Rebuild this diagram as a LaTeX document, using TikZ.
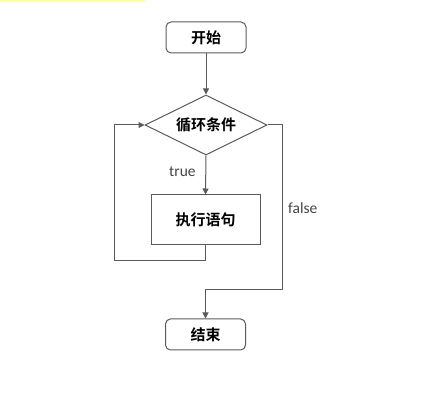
\documentclass[tikz,border=0pt]{standalone}
\usepackage{fontspec}
\setmainfont{Carlito}
\newfontfamily\cjk{Noto Sans CJK SC}[BoldFont={* Bold}]
\usetikzlibrary{shapes.geometric,arrows.meta}
\definecolor{linec}{HTML}{5A5A5A}
\definecolor{labc}{HTML}{444444}
\definecolor{hl}{HTML}{FFFF99}
\tikzset{
  term/.style={draw=linec,line width=1pt,rounded corners=5pt,minimum width=80pt,minimum height=31pt,font=\cjk\bfseries\fontsize{15}{15}\selectfont,inner sep=0pt},
  proc/.style={draw=linec,line width=1pt,minimum width=109pt,minimum height=50pt,font=\cjk\bfseries\fontsize{15}{15}\selectfont,inner sep=0pt},
  cond/.style={draw=linec,line width=1pt,diamond,aspect=2.03,minimum width=122pt,minimum height=60pt,font=\cjk\bfseries\fontsize{15}{15}\selectfont,inner sep=0pt},
  conn/.style={draw=linec,line width=1pt,-{Triangle[length=6pt,width=6pt]}},
  lab/.style={font=\fontsize{15.5}{15.5}\selectfont,text=labc,inner sep=0pt}
}
\begin{document}
\begin{tikzpicture}[x=1pt,y=-1pt]
\useasboundingbox (0,0) rectangle (437,406);
\fill[hl] (0,0) rectangle (145,2.5);
\node[term] (start) at (206,37.5) {开始};
\node[cond] (c) at (206,125) {循环条件};
\node[proc] (body) at (205.5,220) {执行语句};
\node[term] (end) at (205.5,334.5) {结束};
\coordinate (lb) at (114,261);
\coordinate (lt) at (114,125);
\coordinate (rt) at (282,125);
\coordinate (rb) at (282,290);
\coordinate (eb) at (205.5,290);
\draw[conn] (start) -- (c);
\draw[conn] (c.south) -- (body.north);
\draw[conn] (body.south) |- (lb) -- (lt) -- (c.west);
\draw[conn] (c.east) -- (rt) -- (rb) -- (eb) -- (end.north);
\node[lab,anchor=west] (t) at (169,172) {true};
\node[lab,anchor=west] (f) at (288,208) {false};
\end{tikzpicture}
\end{document}
